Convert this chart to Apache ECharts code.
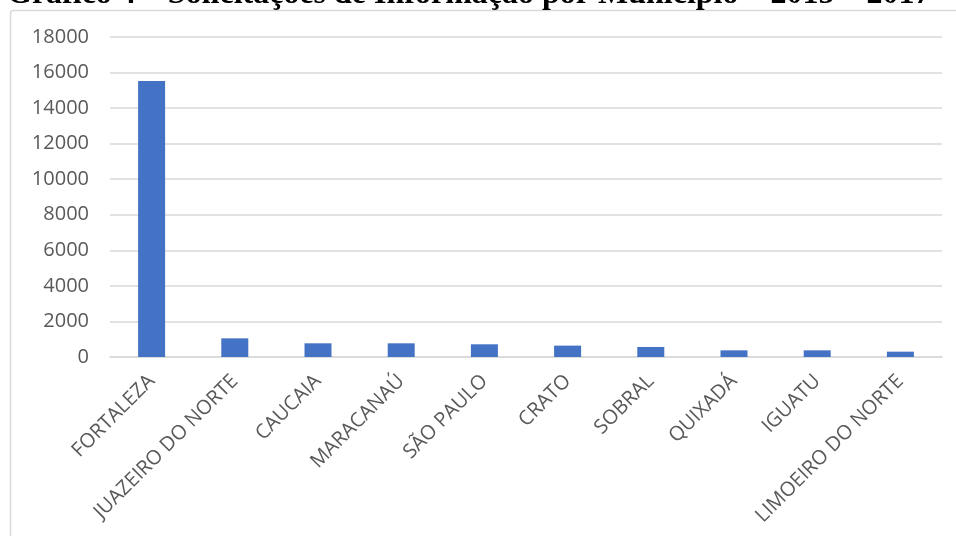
<!DOCTYPE html>
<html>
<head>
<meta charset="utf-8">
<script src="https://cdn.jsdelivr.net/npm/echarts@6/dist/echarts.min.js"></script>
<style>
  html, body { margin: 0; padding: 0; background: #fff; }
  #chart { width: 956px; height: 536px; }
</style>
</head>
<body>
<div id="chart"></div>
<script>
// Solicitações de informação por município, 2015–2017
const municipios = ['FORTALEZA', 'JUAZEIRO DO NORTE', 'CAUCAIA', 'MARACANAÚ', 'SÃO PAULO',
  'CRATO', 'SOBRAL', 'QUIXADÁ', 'IGUATU', 'LIMOEIRO DO NORTE'];
const solicitacoes = [15520, 1050, 770, 770, 715, 640, 565, 375, 375, 300];
const yTicks = [0, 2000, 4000, 6000, 8000, 10000, 12000, 14000, 16000, 18000];
const titulo = 'Gráfico 4 – Solicitações de Informação por Município – 2015 – 2017';

const chart = echarts.init(document.getElementById('chart'));
chart.setOption({
  animation: false,
  backgroundColor: '#fff',
  graphic: [
    {
      type: 'rect',
      shape: { x: 10.5, y: 10.5, width: 960, height: 540, r: 3 },
      style: { fill: 'none', stroke: '#d9d9d9', lineWidth: 1.5 },
      silent: true
    },
    {
      type: 'text',
      left: 7, top: -21,
      style: {
        text: titulo,
        font: 'bold 32px "Liberation Serif", "Times New Roman", serif',
        fill: '#000'
      },
      silent: true
    }
  ],
  grid: { left: 110, right: 14, top: 37, bottom: 179 },
  xAxis: {
    type: 'category',
    data: municipios,
    axisLine: { lineStyle: { color: '#d9d9d9', width: 1.5 } },
    axisTick: { show: false },
    axisLabel: {
      interval: 0,
      rotate: 45,
      margin: 21,
      color: '#595959',
      fontSize: 20,
      fontFamily: '"Open Sans", "Noto Sans", sans-serif'
    }
  },
  yAxis: {
    type: 'value',
    min: yTicks[0],
    max: yTicks[yTicks.length - 1],
    interval: yTicks[1] - yTicks[0],
    axisLine: { show: false },
    axisTick: { show: false },
    splitLine: { lineStyle: { color: '#d9d9d9', width: 1.5 } },
    axisLabel: {
      margin: 21,
      color: '#595959',
      fontSize: 20,
      fontFamily: '"Open Sans", "Noto Sans", sans-serif',
      formatter: v => String(v)
    }
  },
  series: [{
    type: 'bar',
    data: solicitacoes,
    barWidth: 27,
    itemStyle: { color: '#4472C4' }
  }]
});
</script>
</body>
</html>
